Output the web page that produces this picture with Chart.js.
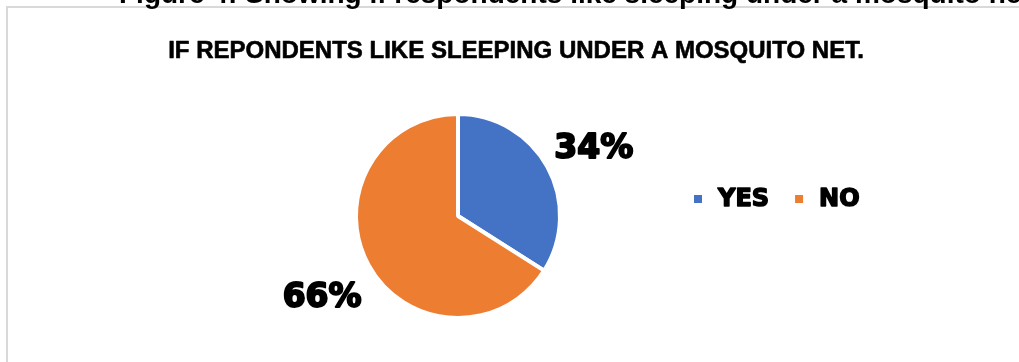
<!DOCTYPE html>
<html>
<head>
<meta charset="utf-8">
<script src="https://cdn.jsdelivr.net/npm/chart.js@4.4.1/dist/chart.umd.min.js"></script>
<style>
html, body { margin: 0; padding: 0; background: #ffffff; }
#pieChart { display: block; }
</style>
</head>
<body>
<canvas id="pieChart" width="1019" height="362"></canvas>
<script>
const categories = ["YES", "NO"];
const shares = [34, 66];
const sliceColors = ["#4472C4", "#ED7D31"];

const figureCaption = "Figure 4: Showing if respondents like sleeping under a mosquito net";
const chartTitle = "IF REPONDENTS LIKE SLEEPING UNDER A MOSQUITO NET.";

// heavy text: fill plus a thin stroke in the same colour
function heavyText(ctx, text, x, y, weight) {
  ctx.lineWidth = weight;
  ctx.lineJoin = "round";
  ctx.strokeStyle = ctx.fillStyle;
  ctx.strokeText(text, x, y);
  ctx.fillText(text, x, y);
}

// frame, caption, title, legend and the percentage labels
const decorations = {
  id: "decorations",
  beforeDraw(chart) {
    const ctx = chart.ctx;
    ctx.save();
    ctx.fillStyle = "#d9d9d9";
    ctx.fillRect(6, 6, chart.width - 6, 2);
    ctx.fillRect(6, 6, 2, chart.height - 6);
    ctx.restore();
  },
  afterDraw(chart) {
    const ctx = chart.ctx;
    ctx.save();
    ctx.fillStyle = "#000000";
    ctx.textBaseline = "alphabetic";

    ctx.font = "bold 28px 'Liberation Sans Narrow', 'Liberation Sans', sans-serif";
    ctx.textAlign = "left";
    ctx.fillText(figureCaption, 119, 3);

    ctx.font = "bold 24px 'Liberation Sans Narrow', 'Liberation Sans', sans-serif";
    ctx.textAlign = "center";
    ctx.textBaseline = "middle";
    heavyText(ctx, chartTitle, 516, 51, 0.6);

    // percentage labels outside each slice
    const meta = chart.getDatasetMeta(0);
    const total = shares.reduce((a, b) => a + b, 0);
    ctx.font = "bold 33px 'DejaVu Sans', sans-serif";
    meta.data.forEach((arc, i) => {
      const p = arc.getProps(["x", "y", "startAngle", "endAngle", "outerRadius"], true);
      const mid = (p.startAngle + p.endAngle) / 2;
      const dist = p.outerRadius * 1.52;
      const pct = Math.round(shares[i] / total * 100) + "%";
      heavyText(ctx, pct, p.x + Math.cos(mid) * dist, p.y + Math.sin(mid) * dist + 8, 2);
    });

    // legend
    ctx.font = "bold 24px 'DejaVu Sans', sans-serif";
    ctx.textAlign = "left";
    let lx = 694;
    const ly = 199;
    categories.forEach((name, i) => {
      ctx.fillStyle = sliceColors[i];
      ctx.fillRect(lx, ly - 4, 8, 8);
      ctx.fillStyle = "#000000";
      heavyText(ctx, name, lx + 24, ly + 1, 1.5);
      lx += 24 + ctx.measureText(name).width + 26;
    });
    ctx.restore();
  }
};

new Chart(document.getElementById("pieChart"), {
  type: "pie",
  data: {
    labels: categories,
    datasets: [{
      data: shares,
      backgroundColor: sliceColors,
      borderColor: "#ffffff",
      borderWidth: 4,
      radius: 102
    }]
  },
  options: {
    responsive: false,
    devicePixelRatio: 1,
    animation: false,
    layout: {
      padding: { left: 250, right: 353, top: 110, bottom: 40 }
    },
    plugins: {
      legend: { display: false },
      title: { display: false },
      tooltip: { enabled: false }
    }
  },
  plugins: [decorations]
});
</script>
</body>
</html>
